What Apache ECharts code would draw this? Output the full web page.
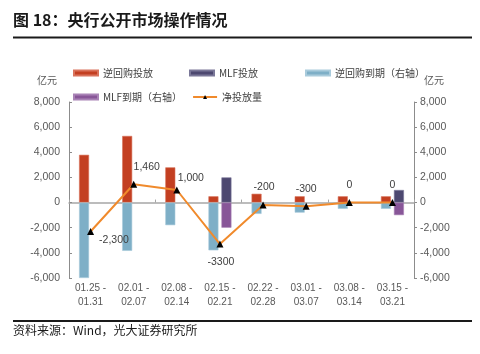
<!DOCTYPE html>
<html><head><meta charset="utf-8">
<script src="https://cdn.jsdelivr.net/npm/echarts@6/dist/echarts.min.js"></script>
<style>html,body{margin:0;padding:0;background:#fff}#c{width:480px;height:354px}</style>
</head><body><div id="c"></div>
<script>
const categories = ['01.25 -\n01.31','02.01 -\n02.07','02.08 -\n02.14','02.15 -\n02.21','02.22 -\n02.28','03.01 -\n03.07','03.08 -\n03.14','03.15 -\n03.21'];
const reverseRepoInjection = [3800, 5300, 2800, 500, 700, 500, 500, 500];
const mlfInjection = [null, null, null, 2000, null, null, null, 1000];
const reverseRepoMaturity = [-6000, -3840, -1800, -3800, -900, -800, -500, -500];
const mlfMaturity = [null, null, null, -2000, null, null, null, -1000];
const netInjection = [-2300, 1460, 1000, -3300, -200, -300, 0, 0];
const netLabels = ['-2,300', '1,460', '1,000', '-3300', '-200', '-300', '0', '0'];
const axisMin = -6000, axisMax = 8000, axisStep = 2000;

// label placement styles (not data)
const labelPlace = [
  {position:'right', offset:[0,9]},
  {position:'top', offset:[13,-3]},
  {position:'top', offset:[14,2]},
  {position:'bottom', offset:[1,4]},
  {position:'top', offset:[1,-4]},
  {position:'top', offset:[0,-3]},
  {position:'top', offset:[0,-4]},
  {position:'top', offset:[0,-4]}
];

const chart = echarts.init(document.getElementById('c'), null, {renderer:'canvas'});
const cjk = '"Noto Sans CJK SC", "Liberation Sans", sans-serif';
const num = '"Liberation Sans", "Noto Sans CJK SC", sans-serif';
const fmtComma = v => (v < 0 ? '-' : '') + Math.abs(v).toString().replace(/\B(?=(\d{3})+(?!\d))/g, ',');

chart.setOption({
  animation: false,
  textStyle: {fontFamily: cjk},
  graphic: [
    {type:'text', left:13, top:12, style:{text:'图 18：央行公开市场操作情况', font:'bold 16px ' + cjk, fill:'#1a1a1a'}},
    {type:'rect', shape:{x:13, y:36.5, width:459, height:2}, style:{fill:'#1a1a1a'}},
    {type:'rect', shape:{x:13, y:320, width:459, height:2}, style:{fill:'#1a1a1a'}},
    {type:'text', left:13, top:324, style:{text:'资料来源：Wind，光大证券研究所', font:'12px ' + cjk, fill:'#1a1a1a'}}
  ],
  legend: {
    left: 73, top: 66, width: 420, padding: 0,
    itemWidth: 24, itemHeight: 5, itemGap: 10,
    textStyle: {fontSize: 10, color:'#404040', width: 76, lineHeight: 14, fontFamily: cjk},
    data: [
      {name:'逆回购投放', icon:'rect'},
      {name:'MLF投放', icon:'rect'},
      {name:'逆回购到期（右轴）', icon:'rect'},
      {name:'MLF到期（右轴）', icon:'rect'},
      {name:'净投放量'}
    ]
  },
  grid: {left: 69, right: 66, top: 102, bottom: 76, containLabel: false},
  xAxis: [
    {type:'category', data: categories, position:'bottom',
     axisLine:{show:false, onZero:false}, axisTick:{show:false},
     axisLabel:{fontSize:10, color:'#595959', fontFamily:num, lineHeight:14, margin:3, interval:0}},
    {type:'category', data: categories, position:'bottom',
     axisLine:{show:true, onZero:true, onZeroAxisIndex:0, lineStyle:{color:'#a6a6a6', width:1.5}},
     axisTick:{show:true, inside:true, length:3, lineStyle:{color:'#a6a6a6'}},
     axisLabel:{show:false}}
  ],
  yAxis: [
    {type:'value', min:axisMin, max:axisMax, interval:axisStep, name:'亿元', nameLocation:'end', nameGap:17,
     nameTextStyle:{fontSize:10, color:'#595959', align:'center', padding:[0,44,0,0]},
     axisLine:{show:true, lineStyle:{color:'#8c8c8c'}}, axisTick:{show:true, inside:true, length:3, lineStyle:{color:'#8c8c8c'}},
     splitLine:{show:false},
     axisLabel:{fontSize:10.5, color:'#595959', fontFamily:num, margin:9}},
    {type:'value', min:axisMin, max:axisMax, interval:axisStep, name:'亿元', nameLocation:'end', nameGap:17,
     nameTextStyle:{fontSize:10, color:'#595959', align:'center', padding:[0,0,0,40]},
     axisLine:{show:true, lineStyle:{color:'#8c8c8c'}}, axisTick:{show:true, inside:false, length:3, lineStyle:{color:'#8c8c8c'}},
     splitLine:{show:false},
     axisLabel:{fontSize:10.5, color:'#595959', fontFamily:num, margin:6, formatter: fmtComma}}
  ],
  series: [
    {name:'逆回购投放', type:'bar', stack:'rr', yAxisIndex:0, data: reverseRepoInjection, barWidth:10, barGap:'30%',
     itemStyle:{color:'#c33f21', borderColor:'#d9735c', borderWidth:0.6}},
    {name:'MLF投放', type:'bar', stack:'mlf', yAxisIndex:0, data: mlfInjection, barWidth:10, barGap:'30%',
     itemStyle:{color:'#4d4870', borderColor:'#7a7798', borderWidth:0.6}},
    {name:'逆回购到期（右轴）', type:'bar', stack:'rr', yAxisIndex:1, data: reverseRepoMaturity, barWidth:10, barGap:'30%',
     itemStyle:{color:'#7eafc7', borderColor:'#a9cbdc', borderWidth:0.6}},
    {name:'MLF到期（右轴）', type:'bar', stack:'mlf', yAxisIndex:1, data: mlfMaturity, barWidth:10, barGap:'30%',
     itemStyle:{color:'#885698', borderColor:'#a983b6', borderWidth:0.6}},
    {name:'净投放量', type:'line', yAxisIndex:0, z:5,
     data: netInjection.map((v,i) => ({value:v, label:{position: labelPlace[i].position, offset: labelPlace[i].offset}})),
     symbol:'triangle', symbolSize:7,
     lineStyle:{color:'#f08a2c', width:2},
     itemStyle:{color:'#000000'},
     label:{show:true, fontSize:10.5, color:'#404040', fontFamily:num, distance:5,
            formatter: p => netLabels[p.dataIndex]}}
  ]
});
</script></body></html>
